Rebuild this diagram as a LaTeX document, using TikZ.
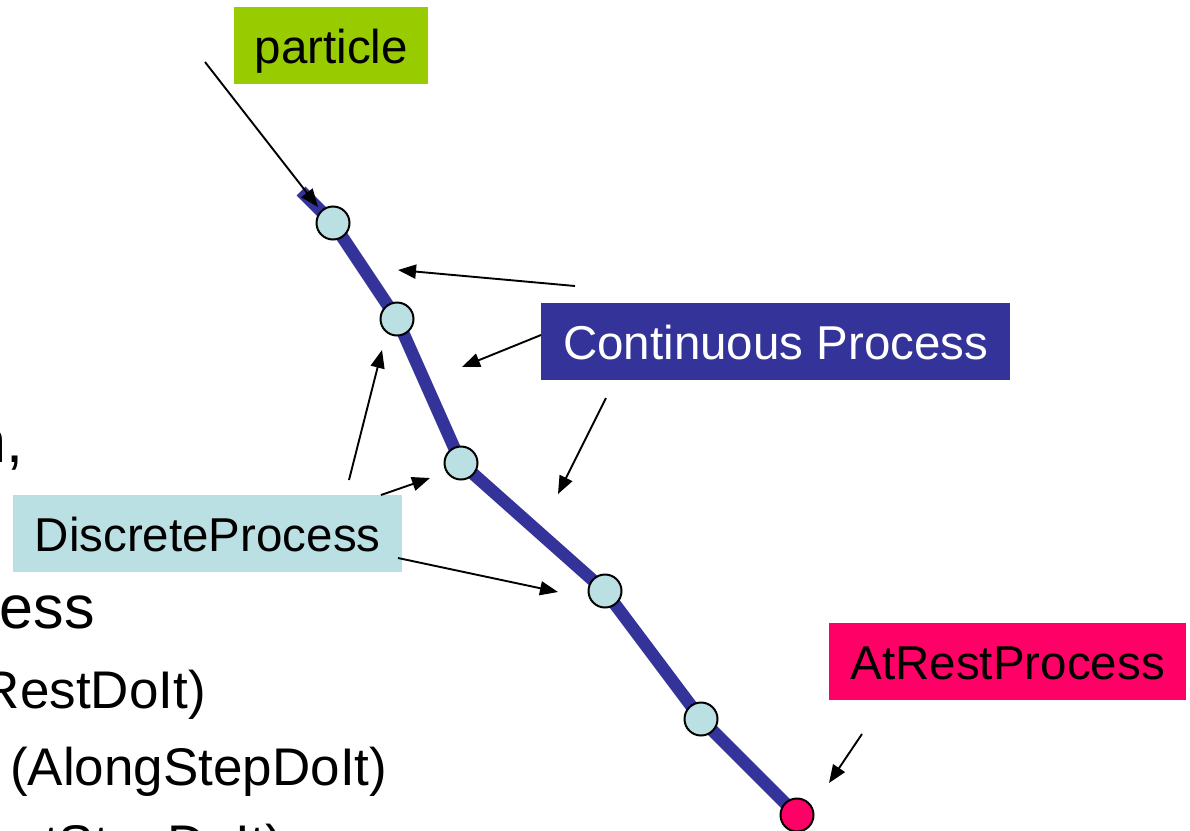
\documentclass[tikz,border=0pt]{standalone}
\usepackage{fontspec}
\setmainfont{Liberation Sans}
\usetikzlibrary{arrows.meta}
\definecolor{trackblue}{HTML}{333399}
\definecolor{lightcyan}{HTML}{BBE0E3}
\definecolor{partgreen}{HTML}{99CC00}
\definecolor{restred}{HTML}{FF0066}
\begin{document}
\begin{tikzpicture}[x=1pt,y=-1pt,
  labelbox/.style={rectangle, inner xsep=0pt, inner ysep=8pt, text height=48pt, text depth=13pt,
    font=\fontsize{47.5}{57}\selectfont, anchor=north west},
  ptr/.style={line width=1.9pt, -{Triangle[length=18pt,width=14pt]}},
  stepdot/.style={circle, draw=black, line width=2pt, fill=lightcyan, minimum size=33pt, inner sep=0pt},
  bodytext/.style={font=\fontsize{53}{63}\selectfont, inner sep=0pt},
  headtext/.style={font=\fontsize{61}{72}\selectfont, inner sep=0pt}
]
\useasboundingbox (0,0) rectangle (1190,830);
\clip (0,0) rectangle (1190,830);

% slide text cut at the left edge
\node[headtext, anchor=base east] (t1) at (24,462) {n,};
\node[headtext, anchor=base east] (t2) at (95,628) {ess};
\node[bodytext, anchor=base east] (t3) at (206,708) {RestDoIt)};
\node[bodytext, anchor=base west] (t4) at (10,785) {(AlongStepDoIt)};
\node[bodytext, anchor=base east] (t5) at (283,862) {tStepDoIt)};

% track
\coordinate (p0) at (301,191);
\coordinate (p1) at (333,223);
\coordinate (p2) at (397,319);
\coordinate (p3) at (461,463);
\coordinate (p4) at (605,591);
\coordinate (p5) at (701,719);
\coordinate (p6) at (797,815);
\draw[trackblue, line width=12.5pt] (p0) -- (p1) -- (p2) -- (p3) -- (p4) -- (p5) -- (p6);
\node[stepdot] (c1) at (p1) {};
\node[stepdot] (c2) at (p2) {};
\node[stepdot] (c3) at (p3) {};
\node[stepdot] (c4) at (p4) {};
\node[stepdot] (c5) at (p5) {};
\node[stepdot, fill=restred] (c6) at (p6) {};

% labels
\node[labelbox, fill=partgreen, minimum width=194pt] (particle) at (234,7) {particle};
\node[labelbox, fill=trackblue, text=white, minimum width=469pt] (cont) at (541,303) {Continuous Process};
\node[labelbox, fill=lightcyan, minimum width=389pt] (disc) at (13,495) {DiscreteProcess};
\node[labelbox, fill=restred, minimum width=357pt] (rest) at (829,623) {AtRestProcess};

% arrow end points
\coordinate (a1s) at (205,62);   \coordinate (a1e) at (318,207);
\coordinate (a2s) at (575,286);  \coordinate (a2e) at (398,270);
\coordinate (a3s) at (541,335);  \coordinate (a3e) at (462,367);
\coordinate (a4s) at (606,398);  \coordinate (a4e) at (558,494);
\coordinate (a5s) at (349,480);  \coordinate (a5e) at (382,350);
\coordinate (a6s) at (381,495);  \coordinate (a6e) at (430,478);
\coordinate (a7s) at (398,558);  \coordinate (a7e) at (558,592);
\coordinate (a8s) at (862,734);  \coordinate (a8e) at (829,783);

\draw[ptr] (a1s) -- (a1e);
\draw[ptr] (a2s) -- (a2e);
\draw[ptr] (a3s) -- (a3e);
\draw[ptr] (a4s) -- (a4e);
\draw[ptr] (a5s) -- (a5e);
\draw[ptr] (a6s) -- (a6e);
\draw[ptr] (a7s) -- (a7e);
\draw[ptr] (a8s) -- (a8e);
\end{tikzpicture}
\end{document}
